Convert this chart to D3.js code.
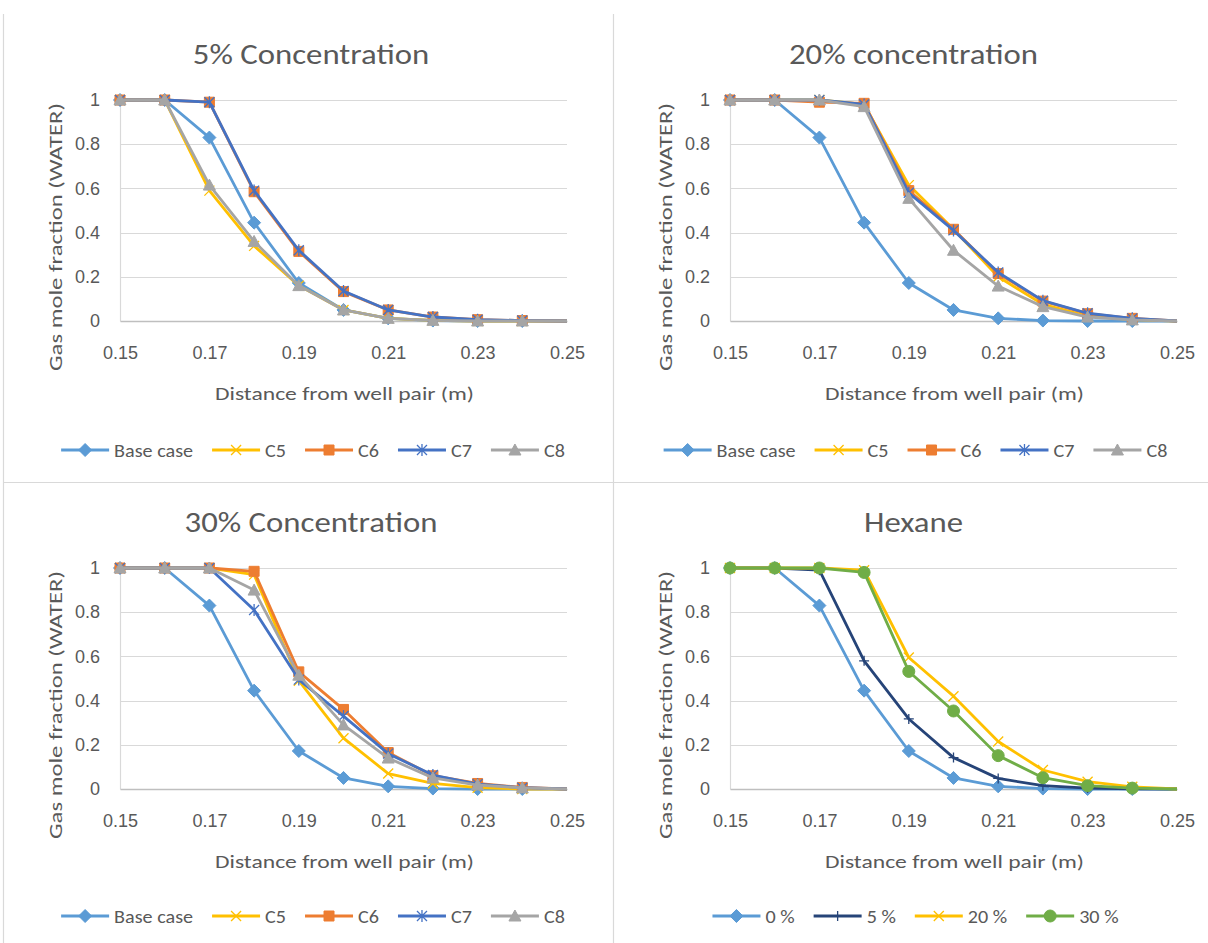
<!DOCTYPE html>
<html>
<head>
<meta charset="utf-8">
<script src="https://cdn.jsdelivr.net/npm/d3@7"></script>
<style>
  html, body { margin: 0; padding: 0; background: #fff; }
  svg { display: block; font-family: Carlito, Calibri, Lato, "Open Sans", sans-serif; }
</style>
</head>
<body>
<svg id="chart" width="1208" height="943"></svg>
<script>
// ---- dados ----
const distance = [0.15, 0.16, 0.17, 0.18, 0.19, 0.20, 0.21, 0.22, 0.23, 0.24, 0.25];
const xTicks = [0.15, 0.17, 0.19, 0.21, 0.23, 0.25];
const yTicks = [0, 0.2, 0.4, 0.6, 0.8, 1];

const baseCase = [1, 1, 0.83, 0.445, 0.172, 0.05, 0.012, 0.002, 0, 0, 0];

// 5% concentration
const p5_c5 = [1, 1, 0.59, 0.34, 0.16, 0.05, 0.012, 0.003, 0, 0, 0];
const p5_c6 = [1, 1, 0.99, 0.585, 0.315, 0.133, 0.05, 0.018, 0.006, 0.002, 0];
const p5_c7 = [1, 1, 0.99, 0.59, 0.32, 0.136, 0.05, 0.018, 0.006, 0.002, 0];
const p5_c8 = [1, 1, 0.615, 0.36, 0.16, 0.05, 0.012, 0.003, 0, 0, 0];

// 20% concentration
const p20_c5 = [1, 1, 1, 0.98, 0.615, 0.415, 0.2, 0.075, 0.022, 0.006, 0];
const p20_c6 = [1, 1, 0.99, 0.985, 0.59, 0.415, 0.215, 0.09, 0.033, 0.012, 0];
const p20_c7 = [1, 1, 1, 0.98, 0.58, 0.41, 0.22, 0.092, 0.035, 0.012, 0];
const p20_c8 = [1, 1, 1, 0.97, 0.555, 0.32, 0.158, 0.065, 0.018, 0.005, 0];

// 30% concentration
const p30_c5 = [1, 1, 1, 0.97, 0.49, 0.23, 0.07, 0.025, 0.006, 0, 0];
const p30_c6 = [1, 1, 1, 0.985, 0.53, 0.36, 0.165, 0.06, 0.025, 0.007, 0];
const p30_c7 = [1, 1, 1, 0.81, 0.495, 0.33, 0.16, 0.063, 0.022, 0.006, 0];
const p30_c8 = [1, 1, 1, 0.9, 0.515, 0.29, 0.14, 0.05, 0.018, 0.005, 0];

// Hexane
const hex5 = [1, 1, 0.99, 0.58, 0.317, 0.142, 0.048, 0.015, 0.004, 0.001, 0];
const hex20 = [1, 1, 1, 0.99, 0.595, 0.42, 0.215, 0.086, 0.033, 0.01, 0];
const hex30 = [1, 1, 1, 0.98, 0.532, 0.353, 0.151, 0.051, 0.015, 0.004, 0];

const concNames = ['Base case', 'C5', 'C6', 'C7', 'C8'];
const hexNames = ['0 %', '5 %', '20 %', '30 %'];
const titles = ['5% Concentration', '20% concentration', '30% Concentration', 'Hexane'];

// ---- estilo ----
const TEXT = '#595959';
const GRID = '#d9d9d9';
const STYLE = {
  'Base case': { color: '#5b9bd5', marker: 'diamond' },
  'C5': { color: '#ffc000', marker: 'x' },
  'C6': { color: '#ed7d31', marker: 'square' },
  'C7': { color: '#4472c4', marker: 'star' },
  'C8': { color: '#a5a5a5', marker: 'triangle' },
  '0 %': { color: '#5b9bd5', marker: 'diamond' },
  '5 %': { color: '#264478', marker: 'plus' },
  '20 %': { color: '#ffc000', marker: 'x' },
  '30 %': { color: '#70ad47', marker: 'circle' },
};

const panels = [
  { title: titles[0], names: concNames, values: [baseCase, p5_c5, p5_c6, p5_c7, p5_c8], box: [3, 14, 613, 482], legendY: 129 },
  { title: titles[1], names: concNames, values: [baseCase, p20_c5, p20_c6, p20_c7, p20_c8], box: [613, 14, 1208, 482], legendY: 129 },
  { title: titles[2], names: concNames, values: [baseCase, p30_c5, p30_c6, p30_c7, p30_c8], box: [3, 482, 613, 943], legendY: 127 },
  { title: titles[3], names: hexNames, values: [baseCase, hex5, hex20, hex30], box: [613, 482, 1208, 943], legendY: 127 },
];

const svg = d3.select('#chart');

// bordas dos quadros
const frame = svg.append('g').attr('stroke', GRID).attr('stroke-width', 1.2).attr('fill', 'none');
frame.append('line').attr('x1', 3.5).attr('x2', 3.5).attr('y1', 14).attr('y2', 943);
frame.append('line').attr('x1', 613.5).attr('x2', 613.5).attr('y1', 14).attr('y2', 943);
frame.append('line').attr('x1', 3).attr('x2', 1208).attr('y1', 482.5).attr('y2', 482.5);

function markerPath(type, s) {
  const h = s / 2;
  switch (type) {
    case 'diamond': return `M0,${-h - 1.5}L${h + 1.5},0L0,${h + 1.5}L${-h - 1.5},0Z`;
    case 'square': return `M${-h},${-h}H${h}V${h}H${-h}Z`;
    case 'triangle': return `M0,${-h - 1}L${h + 1},${h}L${-h - 1},${h}Z`;
    case 'circle': return d3.symbol(d3.symbolCircle, Math.PI * (h + 1) * (h + 1))();
    case 'x': return `M${-h},${-h}L${h},${h}M${-h},${h}L${h},${-h}`;
    case 'plus': return `M${-h},0H${h}M0,${-h}V${h}`;
    case 'star': return `M${-h},${-h}L${h},${h}M${-h},${h}L${h},${-h}M0,${-h - 1}V${h + 1}`;
  }
}
const OPEN = new Set(['x', 'plus', 'star']);

function drawMarker(g, type, color) {
  const open = OPEN.has(type);
  g.append('path')
    .attr('d', markerPath(type, 10))
    .attr('fill', open ? 'none' : color)
    .attr('stroke', color)
    .attr('stroke-width', open ? 1.3 : 1);
}

// alarga o texto para a largura do original (Calibri esticada na imagem)
function stretch(sel, factor) {
  const w = sel.node().getComputedTextLength();
  sel.attr('textLength', w * factor).attr('lengthAdjust', 'spacingAndGlyphs');
}

panels.forEach((p) => {
  const [bx0, by0, bx1] = p.box;
  const left = bx0 + 117, right = bx0 + 564;
  const top = by0 + 86, bottom = by0 + 307;

  const x = d3.scaleLinear().domain([0.15, 0.25]).range([left, right]);
  const y = d3.scaleLinear().domain([0, 1]).range([bottom, top]);
  const g = svg.append('g');

  // titulo
  g.append('text')
    .attr('x', (bx0 + bx1) / 2 + 3).attr('y', by0 + 50)
    .attr('text-anchor', 'middle').attr('fill', TEXT)
    .attr('font-size', 28).text(p.title)
    .call(stretch, 1.17);

  // grade horizontal
  g.append('g').selectAll('line').data(yTicks.filter((t) => t > 0)).join('line')
    .attr('x1', left).attr('x2', right)
    .attr('y1', (d) => Math.round(y(d)) + 0.5).attr('y2', (d) => Math.round(y(d)) + 0.5)
    .attr('stroke', GRID).attr('stroke-width', 1);

  // eixo y
  const yAxis = g.append('g').attr('transform', `translate(${left},0)`)
    .call(d3.axisLeft(y).tickValues(yTicks).tickSize(0).tickPadding(20)
      .tickFormat((d) => (d === 0 || d === 1 ? String(d) : d.toFixed(1))));
  yAxis.select('.domain').attr('stroke', GRID).attr('stroke-width', 1.2);
  yAxis.selectAll('text').attr('fill', TEXT).attr('font-size', 18).attr('font-family', null);

  // eixo x
  const xAxis = g.append('g').attr('transform', `translate(0,${bottom})`)
    .call(d3.axisBottom(x).tickValues(xTicks).tickSize(0).tickPadding(27)
      .tickFormat((d) => d.toFixed(2)));
  xAxis.select('.domain').attr('stroke', '#bfbfbf').attr('stroke-width', 1.5);
  xAxis.selectAll('text').attr('fill', TEXT).attr('font-size', 18).attr('font-family', null)
    .attr('dy', null).attr('y', 38);

  // titulos dos eixos
  g.append('text')
    .attr('transform', `translate(${left - 58},${bottom - 84}) rotate(-90)`)
    .attr('text-anchor', 'middle')
    .attr('fill', TEXT).attr('font-size', 19).text('Gas mole fraction (WATER)')
    .call(stretch, 1.3);
  g.append('text')
    .attr('x', (left + right) / 2 + 1).attr('y', bottom + 79)
    .attr('text-anchor', 'middle')
    .attr('fill', TEXT).attr('font-size', 19).text('Distance from well pair (m)')
    .call(stretch, 1.24);

  // series
  const line = d3.line().x((d) => x(d[0])).y((d) => y(d[1]));
  p.names.forEach((name, i) => {
    const st = STYLE[name];
    const pts = distance.map((d, j) => [d, p.values[i][j]]);
    const sg = g.append('g');
    sg.append('path').datum(pts)
      .attr('d', line).attr('fill', 'none')
      .attr('stroke', st.color).attr('stroke-width', 2.8)
      .attr('stroke-linejoin', 'round');
    sg.selectAll('g.mk').data(pts.slice(0, -1)).join('g')
      .attr('class', 'mk')
      .attr('transform', (d) => `translate(${x(d[0])},${y(d[1])})`)
      .each(function () { drawMarker(d3.select(this), st.marker, st.color); });
  });

  // legenda
  const lg = g.append('g');
  let cx = 0;
  p.names.forEach((name) => {
    const st = STYLE[name];
    const item = lg.append('g').attr('transform', `translate(${cx},0)`);
    item.append('line').attr('x1', 0).attr('x2', 48)
      .attr('stroke', st.color).attr('stroke-width', 2.8);
    drawMarker(item.append('g').attr('transform', 'translate(24,0)'), st.marker, st.color);
    const t = item.append('text').attr('x', 53).attr('dominant-baseline', 'central')
      .attr('fill', TEXT).attr('font-size', 19).text(name);
    stretch(t, 1.06);
    cx += 53 + t.node().getComputedTextLength() + 19;
  });
  const lw = cx - 19;
  lg.attr('transform', `translate(${(bx0 + bx1) / 2 - lw / 2 + 5},${bottom + p.legendY})`);
});
</script>
</body>
</html>
